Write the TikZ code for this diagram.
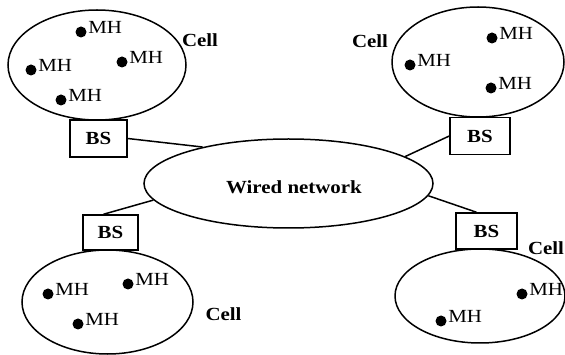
\documentclass[tikz,border=0pt]{standalone}
\usepackage{fontspec}
\setmainfont{Liberation Serif}[FakeStretch=1.13]
\usetikzlibrary{shapes.geometric,calc}
\begin{document}
\begin{tikzpicture}[x=1pt,y=-1pt,line width=1.5pt,
  cellshape/.style={draw,ellipse,inner sep=0pt},
  bsbox/.style={draw,rectangle,inner sep=0pt,minimum width=57pt,minimum height=37pt,font=\fontsize{18.5}{20}\selectfont\bfseries},
  hostdot/.style={circle,fill,inner sep=0pt,minimum size=11pt},
  mhlabel/.style={anchor=base west,inner sep=0pt,font=\fontsize{18.5}{20}\selectfont},
  celllabel/.style={anchor=base,inner sep=0pt,font=\fontsize{18.5}{20}\selectfont\bfseries}]
\useasboundingbox (0,0) rectangle (565,355);
% wired network
\node[cellshape,minimum width=289pt,minimum height=89pt] (wired) at (288.5,183.5) {};
\node[anchor=base,inner sep=0pt,font=\fontsize{18.5}{20}\selectfont\bfseries] (wiredtext) at (294,194) {Wired network};
% top-left cell
\node[cellshape,minimum width=178pt,minimum height=110pt] (c1) at (97,65) {};
\node[celllabel] (c1l) at (200,47) {Cell};
\node[hostdot] (h11) at (81,32) {};
\node[hostdot] (h12) at (122,62) {};
\node[hostdot] (h13) at (31,70) {};
\node[hostdot] (h14) at (61,100) {};
\foreach \h in {h11,h12,h13,h14}{\node[mhlabel] at ($(\h)+(6.5,1.7)$) {MH};}
\node[bsbox] (bs1) at (98.5,138.5) {BS};
% top-right cell
\node[cellshape,minimum width=172pt,minimum height=110pt] (c2) at (478,62) {};
\node[celllabel] (c2l) at (370,48) {Cell};
\node[hostdot] (h21) at (410,65) {};
\node[hostdot] (h22) at (492,38) {};
\node[hostdot] (h23) at (491,88) {};
\foreach \h in {h21,h22,h23}{\node[mhlabel] at ($(\h)+(6.5,1.7)$) {MH};}
\node[bsbox,minimum width=60pt] (bs2) at (480,136) {BS};
% bottom-left cell
\node[cellshape,minimum width=171pt,minimum height=104pt] (c3) at (107.5,302) {};
\node[celllabel] (c3l) at (223.5,320) {Cell};
\node[hostdot] (h31) at (48,294) {};
\node[hostdot] (h32) at (128,284) {};
\node[hostdot] (h33) at (78,324) {};
\foreach \h in {h31,h32,h33}{\node[mhlabel] at ($(\h)+(6.5,1.7)$) {MH};}
\node[bsbox,minimum width=55pt,minimum height=35pt] (bs3) at (110.5,232.5) {BS};
% bottom-right cell
\node[cellshape,minimum width=170pt,minimum height=94pt] (c4) at (480,296) {};
\node[celllabel] (c4l) at (546,255) {Cell};
\node[hostdot] (h41) at (522,294) {};
\node[hostdot] (h42) at (441,321) {};
\foreach \h in {h41,h42}{\node[mhlabel] at ($(\h)+(6.5,1.7)$) {MH};}
\node[bsbox,minimum width=61pt,minimum height=36pt] (bs4) at (486.5,231) {BS};
% links
\draw (bs1.east) -- (wired.157);
\draw (bs2.west) -- (wired.13.7);
\draw ([xshift=-7pt]bs3.north) -- (wired.187);
\draw ([xshift=-10pt]bs4.north) -- (wired.-5.4);
\end{tikzpicture}
\end{document}
